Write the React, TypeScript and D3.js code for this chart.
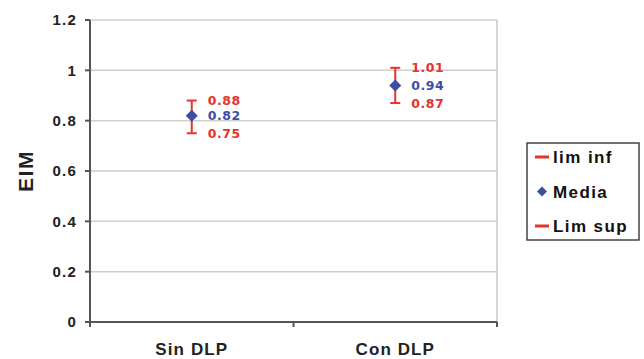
import * as d3 from "d3";

const categories = ["Sin DLP", "Con DLP"];
const limInf = [0.75, 0.87];
const media = [0.82, 0.94];
const limSup = [0.88, 1.01];
const yTicks = [0, 0.2, 0.4, 0.6, 0.8, 1, 1.2];
const legendItems = ["lim inf", "Media", "Lim sup"];

const width = 644;
const height = 359;
const margin = { left: 90, right: 147, top: 20, bottom: 37 };

const RED = "#e8322b";
const BLUE = "#3b4ea3";
const AXIS = "#555555";
const SANS = "Liberation Sans, Arial, sans-serif";

// square rotated 45deg, like the excel marker
const diamond = (r: number) => `M0,${-r}L${r},0L0,${r}L${-r},0Z`;

const App = () => {
  const x = d3
    .scaleBand()
    .domain(categories)
    .range([margin.left, width - margin.right]);
  const y = d3
    .scaleLinear()
    .domain([0, 1.2])
    .range([height - margin.bottom, margin.top]);

  const x0 = margin.left;
  const x1 = width - margin.right;
  const yb = y(0);
  const bounds = [x0, ...categories.map(c => (x(c) as number) + x.bandwidth())];

  return (
    <svg
      width={width}
      height={height}
      style={{ position: "absolute", left: 0, top: 0, background: "#fff" }}
      fontFamily={SANS}
      fontWeight="bold"
    >
      {/* gridlines */}
      {yTicks.map(t => (
        <line key={t} x1={x0} x2={x1} y1={y(t)} y2={y(t)} stroke="#cfcfcf" strokeWidth={1.5} />
      ))}
      <line x1={x1} x2={x1} y1={y(1.2)} y2={yb} stroke="#c8c8c8" strokeWidth={1.5} />

      {/* y axis */}
      <line x1={x0} x2={x0} y1={y(1.2)} y2={yb} stroke={AXIS} strokeWidth={2} />
      {yTicks.map(t => (
        <g key={t}>
          <line x1={x0 - 5} x2={x0} y1={y(t)} y2={y(t)} stroke={AXIS} strokeWidth={2} />
          <text
            x={x0 - 13}
            y={y(t)}
            dy="0.36em"
            textAnchor="end"
            fontSize={15}
            letterSpacing={1.2}
            fill="#222"
          >
            {t}
          </text>
        </g>
      ))}
      <text
        transform={`translate(25,${y(0.6)}) rotate(-90)`}
        textAnchor="middle"
        dy="0.36em"
        fontSize={21}
        letterSpacing={1.5}
        fill="#222"
      >
        EIM
      </text>

      {/* x axis */}
      <line x1={x0 - 5} x2={x1} y1={yb} y2={yb} stroke={AXIS} strokeWidth={2} />
      {bounds.map((b, i) => (
        <line key={i} x1={b} x2={b} y1={yb} y2={yb + 5} stroke={AXIS} strokeWidth={2} />
      ))}
      {categories.map(c => (
        <text
          key={c}
          x={(x(c) as number) + x.bandwidth() / 2}
          y={yb + 33}
          textAnchor="middle"
          fontSize={17}
          letterSpacing={1.1}
          fill="#222"
        >
          {c}
        </text>
      ))}

      {/* error bars */}
      {categories.map((c, i) => {
        const cx = (x(c) as number) + x.bandwidth() / 2;
        return (
          <g key={c}>
            <line x1={cx} x2={cx} y1={y(limInf[i])} y2={y(limSup[i])} stroke={RED} strokeWidth={2} />
            <line x1={cx - 5} x2={cx + 5} y1={y(limInf[i])} y2={y(limInf[i])} stroke={RED} strokeWidth={2} />
            <line x1={cx - 5} x2={cx + 5} y1={y(limSup[i])} y2={y(limSup[i])} stroke={RED} strokeWidth={2} />
            <path d={diamond(6)} transform={`translate(${cx},${y(media[i])})`} fill={BLUE} />
            <g fontFamily="DejaVu Sans, Verdana, sans-serif" fontSize={12.5} letterSpacing={0.5}>
              <text x={cx + 16} y={y(limSup[i])} dy="0.36em" fill={RED}>
                {limSup[i].toFixed(2)}
              </text>
              <text x={cx + 16} y={y(media[i])} dy="0.36em" fill={BLUE}>
                {media[i].toFixed(2)}
              </text>
              <text x={cx + 16} y={y(limInf[i])} dy="0.36em" fill={RED}>
                {limInf[i].toFixed(2)}
              </text>
            </g>
          </g>
        );
      })}

      {/* legend */}
      <g transform="translate(527,143)">
        <rect x={0} y={0} width={112} height={97} fill="#fff" stroke="#444" strokeWidth={1.5} />
        {legendItems.map((l, i) => {
          const ly = 14 + i * 34.5;
          return (
            <g key={l} transform={`translate(0,${ly})`}>
              {l === "Media" ? (
                <path d={diamond(5)} transform="translate(15,0)" fill={BLUE} />
              ) : (
                <line x1={8} x2={22} y1={0} y2={0} stroke={RED} strokeWidth={3} />
              )}
              <text x={26} y={0} dy="0.36em" fontSize={17} letterSpacing={1.4} fill="#111">
                {l}
              </text>
            </g>
          );
        })}
      </g>
    </svg>
  );
};

export default App;
